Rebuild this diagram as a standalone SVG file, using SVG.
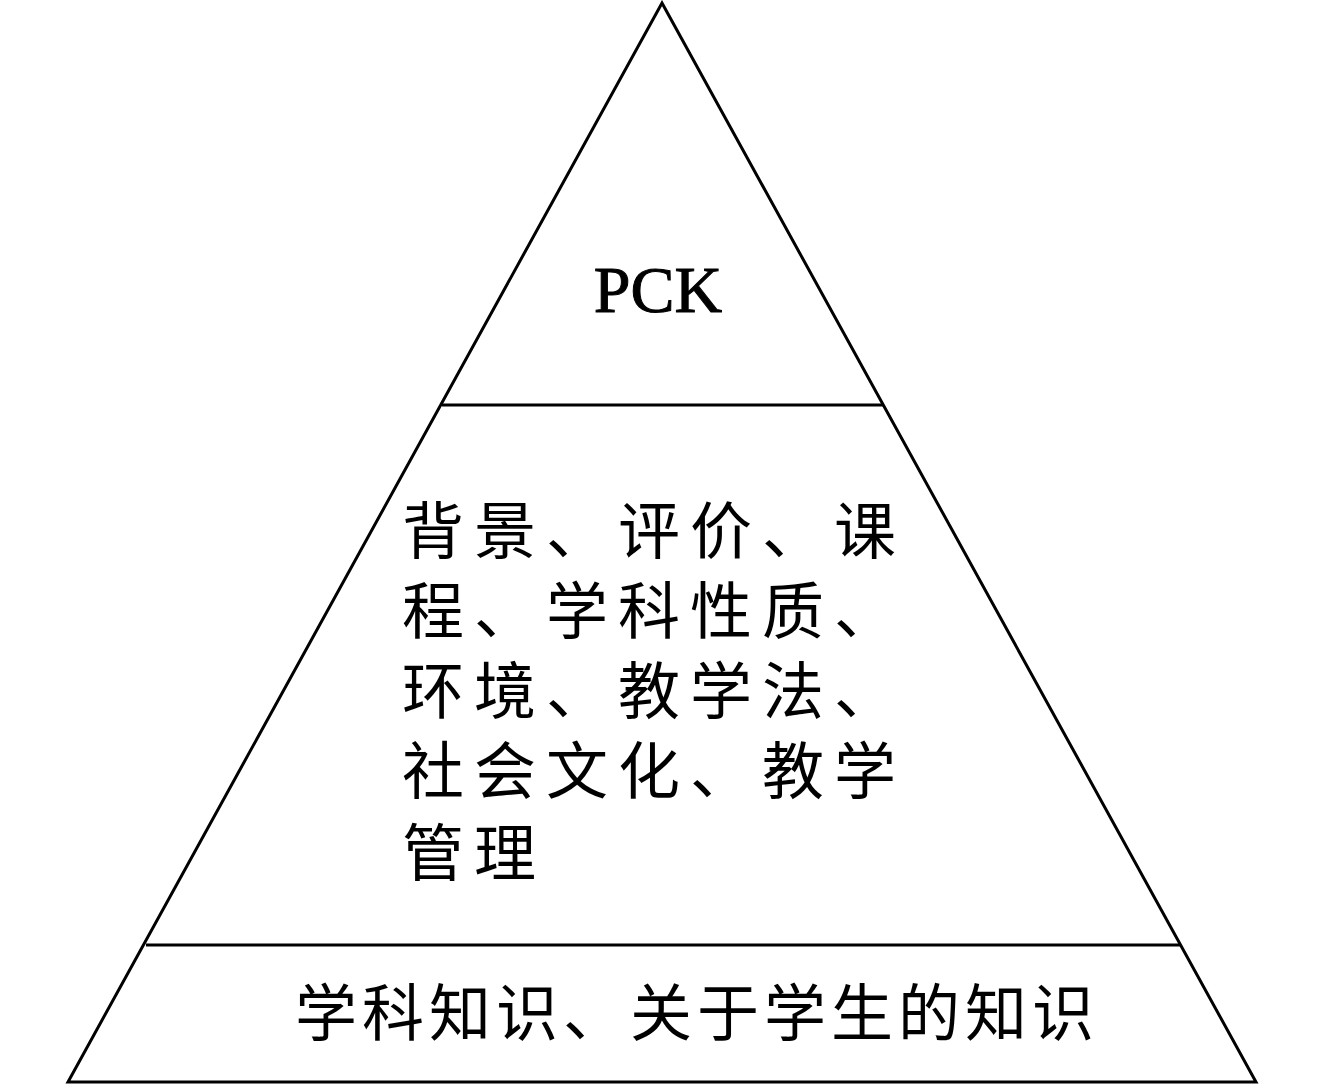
<svg xmlns="http://www.w3.org/2000/svg" width="1326" height="1092" viewBox="0 0 1326 1092">
<style>
.ln{stroke:#000;stroke-width:3;fill:none;stroke-linejoin:miter}
.cjk{font-family:"Noto Sans CJK SC","Noto Sans CJK JP",sans-serif;font-size:62px;fill:#000}
.lat{font-family:"Liberation Serif","Times New Roman",serif;font-size:66px;fill:#000;stroke:#000;stroke-width:1}
</style>
<rect width="1326" height="1092" fill="#fff"/>
<g id="connectors">
<polygon class="ln" points="662,3 1256,1082 68,1082"/>
<line class="ln" x1="442" y1="405" x2="884" y2="405"/>
<line class="ln" x1="146" y1="945" x2="1180" y2="945"/>
</g>
<g id="top">
<text class="lat" x="658" y="312" text-anchor="middle">PCK</text>
</g>
<g id="middle">
<text class="cjk" letter-spacing="10"><tspan x="402" y="554">背景、评价、课</tspan><tspan x="402" y="634">程、学科性质、</tspan><tspan x="402" y="714">环境、教学法、</tspan><tspan x="402" y="794">社会文化、教学</tspan><tspan x="402" y="876">管理</tspan></text>
</g>
<g id="bottom">
<text class="cjk" x="295" y="1036" letter-spacing="5">学科知识、关于学生的知识</text>
</g>
</svg>
